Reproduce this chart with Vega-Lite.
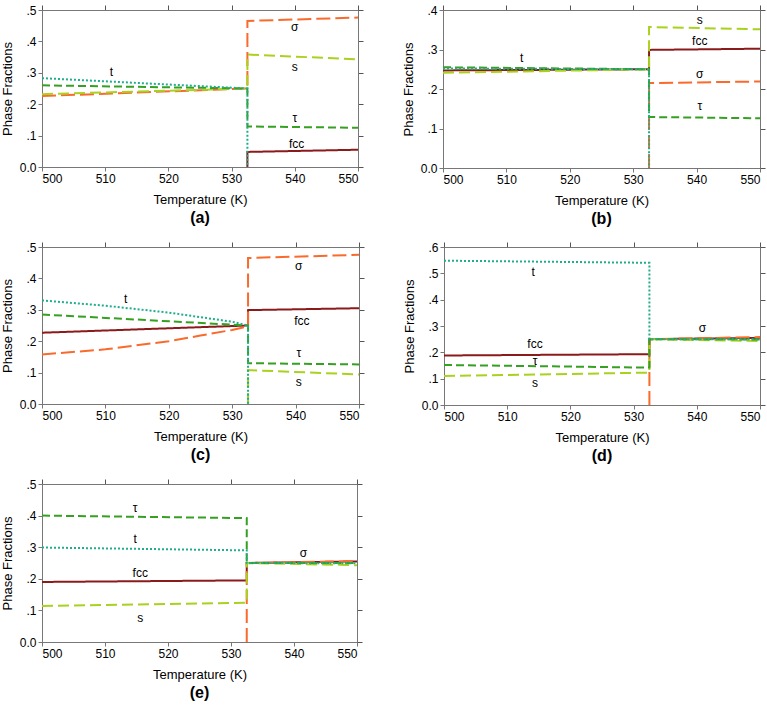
{
  "$schema": "https://vega.github.io/schema/vega-lite/v6.json",
  "padding": {"left": 0, "top": 3, "right": 2, "bottom": 2},
  "datasets": {
    "lines": [
      {"p": "a", "ph": "fcc", "o": 1, "T": 532.5, "f": 0},
      {"p": "a", "ph": "fcc", "o": 2, "T": 532.5, "f": 0.048},
      {"p": "a", "ph": "fcc", "o": 3, "T": 550, "f": 0.055},
      {"p": "a", "ph": "σ", "o": 1, "T": 500, "f": 0.226},
      {"p": "a", "ph": "σ", "o": 2, "T": 532.5, "f": 0.25},
      {"p": "a", "ph": "σ", "o": 3, "T": 532.5, "f": 0.465},
      {"p": "a", "ph": "σ", "o": 4, "T": 550, "f": 0.476},
      {"p": "a", "ph": "s", "o": 1, "T": 500, "f": 0.232},
      {"p": "a", "ph": "s", "o": 2, "T": 532.5, "f": 0.25},
      {"p": "a", "ph": "s", "o": 3, "T": 532.5, "f": 0.358},
      {"p": "a", "ph": "s", "o": 4, "T": 550, "f": 0.343},
      {"p": "a", "ph": "τ", "o": 1, "T": 500, "f": 0.26},
      {"p": "a", "ph": "τ", "o": 2, "T": 532.5, "f": 0.25},
      {"p": "a", "ph": "τ", "o": 3, "T": 532.5, "f": 0.129},
      {"p": "a", "ph": "τ", "o": 4, "T": 550, "f": 0.125},
      {"p": "a", "ph": "t", "o": 1, "T": 500, "f": 0.283},
      {"p": "a", "ph": "t", "o": 2, "T": 532.5, "f": 0.25},
      {"p": "a", "ph": "t", "o": 3, "T": 532.5, "f": 0},

      {"p": "b", "ph": "fcc", "o": 1, "T": 500, "f": 0.247},
      {"p": "b", "ph": "fcc", "o": 2, "T": 532.5, "f": 0.25},
      {"p": "b", "ph": "fcc", "o": 3, "T": 532.5, "f": 0.299},
      {"p": "b", "ph": "fcc", "o": 4, "T": 550, "f": 0.302},
      {"p": "b", "ph": "σ", "o": 1, "T": 532.5, "f": 0},
      {"p": "b", "ph": "σ", "o": 2, "T": 532.5, "f": 0.215},
      {"p": "b", "ph": "σ", "o": 3, "T": 550, "f": 0.219},
      {"p": "b", "ph": "s", "o": 1, "T": 500, "f": 0.241},
      {"p": "b", "ph": "s", "o": 2, "T": 532.5, "f": 0.25},
      {"p": "b", "ph": "s", "o": 3, "T": 532.5, "f": 0.357},
      {"p": "b", "ph": "s", "o": 4, "T": 550, "f": 0.351},
      {"p": "b", "ph": "τ", "o": 1, "T": 500, "f": 0.255},
      {"p": "b", "ph": "τ", "o": 2, "T": 532.5, "f": 0.25},
      {"p": "b", "ph": "τ", "o": 3, "T": 532.5, "f": 0.129},
      {"p": "b", "ph": "τ", "o": 4, "T": 550, "f": 0.126},
      {"p": "b", "ph": "t", "o": 1, "T": 500, "f": 0.252},
      {"p": "b", "ph": "t", "o": 2, "T": 532.5, "f": 0.25},
      {"p": "b", "ph": "t", "o": 3, "T": 532.5, "f": 0},

      {"p": "c", "ph": "fcc", "o": 1, "T": 500, "f": 0.227},
      {"p": "c", "ph": "fcc", "o": 2, "T": 532.5, "f": 0.25},
      {"p": "c", "ph": "fcc", "o": 3, "T": 532.5, "f": 0.299},
      {"p": "c", "ph": "fcc", "o": 4, "T": 550, "f": 0.305},
      {"p": "c", "ph": "σ", "o": 1, "T": 500, "f": 0.158},
      {"p": "c", "ph": "σ", "o": 2, "T": 510, "f": 0.174},
      {"p": "c", "ph": "σ", "o": 3, "T": 520, "f": 0.2},
      {"p": "c", "ph": "σ", "o": 4, "T": 525, "f": 0.218},
      {"p": "c", "ph": "σ", "o": 5, "T": 530, "f": 0.236},
      {"p": "c", "ph": "σ", "o": 6, "T": 532.5, "f": 0.247},
      {"p": "c", "ph": "σ", "o": 7, "T": 532.5, "f": 0.465},
      {"p": "c", "ph": "σ", "o": 8, "T": 550, "f": 0.475},
      {"p": "c", "ph": "s", "o": 1, "T": 532.5, "f": 0},
      {"p": "c", "ph": "s", "o": 2, "T": 532.5, "f": 0.108},
      {"p": "c", "ph": "s", "o": 3, "T": 550, "f": 0.094},
      {"p": "c", "ph": "τ", "o": 1, "T": 500, "f": 0.285},
      {"p": "c", "ph": "τ", "o": 2, "T": 532.5, "f": 0.25},
      {"p": "c", "ph": "τ", "o": 3, "T": 532.5, "f": 0.13},
      {"p": "c", "ph": "τ", "o": 4, "T": 550, "f": 0.126},
      {"p": "c", "ph": "t", "o": 1, "T": 500, "f": 0.33},
      {"p": "c", "ph": "t", "o": 2, "T": 510, "f": 0.313},
      {"p": "c", "ph": "t", "o": 3, "T": 520, "f": 0.291},
      {"p": "c", "ph": "t", "o": 4, "T": 530, "f": 0.262},
      {"p": "c", "ph": "t", "o": 5, "T": 532.5, "f": 0.25},
      {"p": "c", "ph": "t", "o": 6, "T": 532.5, "f": 0},

      {"p": "d", "ph": "fcc", "o": 1, "T": 500, "f": 0.188},
      {"p": "d", "ph": "fcc", "o": 2, "T": 532.5, "f": 0.193},
      {"p": "d", "ph": "fcc", "o": 3, "T": 532.5, "f": 0.25},
      {"p": "d", "ph": "fcc", "o": 4, "T": 550, "f": 0.255},
      {"p": "d", "ph": "σ", "o": 1, "T": 532.5, "f": 0},
      {"p": "d", "ph": "σ", "o": 2, "T": 532.5, "f": 0.25},
      {"p": "d", "ph": "σ", "o": 3, "T": 550, "f": 0.258},
      {"p": "d", "ph": "s", "o": 1, "T": 500, "f": 0.11},
      {"p": "d", "ph": "s", "o": 2, "T": 532.5, "f": 0.123},
      {"p": "d", "ph": "s", "o": 3, "T": 532.5, "f": 0.25},
      {"p": "d", "ph": "s", "o": 4, "T": 550, "f": 0.243},
      {"p": "d", "ph": "τ", "o": 1, "T": 500, "f": 0.152},
      {"p": "d", "ph": "τ", "o": 2, "T": 532.5, "f": 0.142},
      {"p": "d", "ph": "τ", "o": 3, "T": 532.5, "f": 0.25},
      {"p": "d", "ph": "τ", "o": 4, "T": 550, "f": 0.249},
      {"p": "d", "ph": "t", "o": 1, "T": 500, "f": 0.548},
      {"p": "d", "ph": "t", "o": 2, "T": 532.5, "f": 0.54},
      {"p": "d", "ph": "t", "o": 3, "T": 532.5, "f": 0.25},
      {"p": "d", "ph": "t", "o": 4, "T": 550, "f": 0.25},

      {"p": "e", "ph": "fcc", "o": 1, "T": 500, "f": 0.19},
      {"p": "e", "ph": "fcc", "o": 2, "T": 532.5, "f": 0.195},
      {"p": "e", "ph": "fcc", "o": 3, "T": 532.5, "f": 0.25},
      {"p": "e", "ph": "fcc", "o": 4, "T": 550, "f": 0.255},
      {"p": "e", "ph": "σ", "o": 1, "T": 532.5, "f": 0},
      {"p": "e", "ph": "σ", "o": 2, "T": 532.5, "f": 0.25},
      {"p": "e", "ph": "σ", "o": 3, "T": 550, "f": 0.256},
      {"p": "e", "ph": "s", "o": 1, "T": 500, "f": 0.114},
      {"p": "e", "ph": "s", "o": 2, "T": 532.5, "f": 0.124},
      {"p": "e", "ph": "s", "o": 3, "T": 532.5, "f": 0.25},
      {"p": "e", "ph": "s", "o": 4, "T": 550, "f": 0.243},
      {"p": "e", "ph": "τ", "o": 1, "T": 500, "f": 0.4},
      {"p": "e", "ph": "τ", "o": 2, "T": 532.5, "f": 0.392},
      {"p": "e", "ph": "τ", "o": 3, "T": 532.5, "f": 0.25},
      {"p": "e", "ph": "τ", "o": 4, "T": 550, "f": 0.25},
      {"p": "e", "ph": "t", "o": 1, "T": 500, "f": 0.299},
      {"p": "e", "ph": "t", "o": 2, "T": 532.5, "f": 0.29},
      {"p": "e", "ph": "t", "o": 3, "T": 532.5, "f": 0.25},
      {"p": "e", "ph": "t", "o": 4, "T": 550, "f": 0.249}
    ],
    "labels": [
      {"p": "a", "ph": "σ", "T": 540, "f": 0.447},
      {"p": "a", "ph": "s", "T": 540, "f": 0.317},
      {"p": "a", "ph": "τ", "T": 540, "f": 0.156},
      {"p": "a", "ph": "fcc", "T": 540.3, "f": 0.074},
      {"p": "a", "ph": "t", "T": 511, "f": 0.303},
      {"p": "b", "ph": "s", "T": 540.5, "f": 0.375},
      {"p": "b", "ph": "fcc", "T": 540.5, "f": 0.321},
      {"p": "b", "ph": "σ", "T": 540.5, "f": 0.239},
      {"p": "b", "ph": "τ", "T": 540.5, "f": 0.157},
      {"p": "b", "ph": "t", "T": 512.4, "f": 0.279},
      {"p": "c", "ph": "σ", "T": 540.5, "f": 0.441},
      {"p": "c", "ph": "fcc", "T": 541, "f": 0.264},
      {"p": "c", "ph": "τ", "T": 540.5, "f": 0.164},
      {"p": "c", "ph": "s", "T": 540.5, "f": 0.071},
      {"p": "c", "ph": "t", "T": 513.2, "f": 0.335},
      {"p": "d", "ph": "σ", "T": 540.9, "f": 0.293},
      {"p": "d", "ph": "fcc", "T": 514.4, "f": 0.23},
      {"p": "d", "ph": "τ", "T": 514.4, "f": 0.167},
      {"p": "d", "ph": "s", "T": 514.4, "f": 0.085},
      {"p": "d", "ph": "t", "T": 514.1, "f": 0.504},
      {"p": "e", "ph": "τ", "T": 514.8, "f": 0.423},
      {"p": "e", "ph": "t", "T": 514.8, "f": 0.325},
      {"p": "e", "ph": "fcc", "T": 515.6, "f": 0.219},
      {"p": "e", "ph": "s", "T": 515.6, "f": 0.076},
      {"p": "e", "ph": "σ", "T": 541.5, "f": 0.283}
    ]
  },
  "spacing": 12,
  "vconcat": [
    {
      "spacing": 37,
      "hconcat": [
        {
          "width": 316, "height": 157,
          "title": "(a)",
          "resolve": {"scale": {"x": "independent", "y": "independent"}},
          "layer": [
            {
              "data": {"name": "lines"},
              "transform": [{"filter": "datum.p == 'a'"}],
              "mark": {"type": "line", "strokeWidth": 2},
              "encoding": {
                "x": {"field": "T", "type": "quantitative", "scale": {"domain": [500, 550], "nice": false}, "axis": {"title": "Temperature (K)", "values": [500, 510, 520, 530, 540, 550]}},
                "y": {"field": "f", "type": "quantitative", "scale": {"domain": [0, 0.5], "nice": false}, "axis": {"title": "Phase Fractions", "values": [0, 0.1, 0.2, 0.3, 0.4, 0.5], "labelExpr": "datum.value == 0 ? '0.0' : replace(format(datum.value, '.1f'), '0.', '.')"}},
                "color": {"field": "ph", "type": "nominal", "legend": null, "scale": {"domain": ["fcc", "σ", "s", "τ", "t"], "range": ["#8b1a1a", "#f96a2c", "#a9d21f", "#35a022", "#1fae8c"]}},
                "strokeDash": {"field": "ph", "type": "nominal", "legend": null, "scale": {"domain": ["fcc", "σ", "s", "τ", "t"], "range": [[1, 0], [14, 5], [11, 5], [8, 4], [2, 2]]}},
                "order": {"field": "o", "type": "quantitative"}
              }
            },
            {
              "data": {"name": "labels"},
              "transform": [{"filter": "datum.p == 'a'"}],
              "mark": {"type": "text", "fontSize": 12, "font": "Liberation Sans", "color": "black"},
              "encoding": {
                "x": {"field": "T", "type": "quantitative", "scale": {"domain": [500, 550], "nice": false}, "axis": {"orient": "top", "labels": false, "title": null, "values": [500, 510, 520, 530, 540, 550], "tickColor": "#555555", "tickSize": 5}},
                "y": {"field": "f", "type": "quantitative", "scale": {"domain": [0, 0.5], "nice": false}, "axis": {"orient": "right", "labels": false, "title": null, "values": [0, 0.1, 0.2, 0.3, 0.4, 0.5], "tickColor": "#555555", "tickSize": 5}},
                "text": {"field": "ph"}
              }
            }
          ]
        },
        {
          "width": 317, "height": 158,
          "title": "(b)",
          "resolve": {"scale": {"x": "independent", "y": "independent"}},
          "layer": [
            {
              "data": {"name": "lines"},
              "transform": [{"filter": "datum.p == 'b'"}],
              "mark": {"type": "line", "strokeWidth": 2},
              "encoding": {
                "x": {"field": "T", "type": "quantitative", "scale": {"domain": [500, 550], "nice": false}, "axis": {"title": "Temperature (K)", "values": [500, 510, 520, 530, 540, 550]}},
                "y": {"field": "f", "type": "quantitative", "scale": {"domain": [0, 0.4], "nice": false}, "axis": {"title": "Phase Fractions", "values": [0, 0.1, 0.2, 0.3, 0.4], "labelExpr": "datum.value == 0 ? '0.0' : replace(format(datum.value, '.1f'), '0.', '.')"}},
                "color": {"field": "ph", "type": "nominal", "legend": null, "scale": {"domain": ["fcc", "σ", "s", "τ", "t"], "range": ["#8b1a1a", "#f96a2c", "#a9d21f", "#35a022", "#1fae8c"]}},
                "strokeDash": {"field": "ph", "type": "nominal", "legend": null, "scale": {"domain": ["fcc", "σ", "s", "τ", "t"], "range": [[1, 0], [14, 5], [11, 5], [8, 4], [2, 2]]}},
                "order": {"field": "o", "type": "quantitative"}
              }
            },
            {
              "data": {"name": "labels"},
              "transform": [{"filter": "datum.p == 'b'"}],
              "mark": {"type": "text", "fontSize": 12, "font": "Liberation Sans", "color": "black"},
              "encoding": {
                "x": {"field": "T", "type": "quantitative", "scale": {"domain": [500, 550], "nice": false}, "axis": {"orient": "top", "labels": false, "title": null, "values": [500, 510, 520, 530, 540, 550], "tickColor": "#555555", "tickSize": 5}},
                "y": {"field": "f", "type": "quantitative", "scale": {"domain": [0, 0.4], "nice": false}, "axis": {"orient": "right", "labels": false, "title": null, "values": [0, 0.1, 0.2, 0.3, 0.4], "tickColor": "#555555", "tickSize": 5}},
                "text": {"field": "ph"}
              }
            }
          ]
        }
      ]
    },
    {
      "spacing": 37,
      "hconcat": [
        {
          "width": 317, "height": 157,
          "title": "(c)",
          "resolve": {"scale": {"x": "independent", "y": "independent"}},
          "layer": [
            {
              "data": {"name": "lines"},
              "transform": [{"filter": "datum.p == 'c'"}],
              "mark": {"type": "line", "strokeWidth": 2},
              "encoding": {
                "x": {"field": "T", "type": "quantitative", "scale": {"domain": [500, 550], "nice": false}, "axis": {"title": "Temperature (K)", "values": [500, 510, 520, 530, 540, 550]}},
                "y": {"field": "f", "type": "quantitative", "scale": {"domain": [0, 0.5], "nice": false}, "axis": {"title": "Phase Fractions", "values": [0, 0.1, 0.2, 0.3, 0.4, 0.5], "labelExpr": "datum.value == 0 ? '0.0' : replace(format(datum.value, '.1f'), '0.', '.')"}},
                "color": {"field": "ph", "type": "nominal", "legend": null, "scale": {"domain": ["fcc", "σ", "s", "τ", "t"], "range": ["#8b1a1a", "#f96a2c", "#a9d21f", "#35a022", "#1fae8c"]}},
                "strokeDash": {"field": "ph", "type": "nominal", "legend": null, "scale": {"domain": ["fcc", "σ", "s", "τ", "t"], "range": [[1, 0], [14, 5], [11, 5], [8, 4], [2, 2]]}},
                "order": {"field": "o", "type": "quantitative"}
              }
            },
            {
              "data": {"name": "labels"},
              "transform": [{"filter": "datum.p == 'c'"}],
              "mark": {"type": "text", "fontSize": 12, "font": "Liberation Sans", "color": "black"},
              "encoding": {
                "x": {"field": "T", "type": "quantitative", "scale": {"domain": [500, 550], "nice": false}, "axis": {"orient": "top", "labels": false, "title": null, "values": [500, 510, 520, 530, 540, 550], "tickColor": "#555555", "tickSize": 5}},
                "y": {"field": "f", "type": "quantitative", "scale": {"domain": [0, 0.5], "nice": false}, "axis": {"orient": "right", "labels": false, "title": null, "values": [0, 0.1, 0.2, 0.3, 0.4, 0.5], "tickColor": "#555555", "tickSize": 5}},
                "text": {"field": "ph"}
              }
            }
          ]
        },
        {
          "width": 316, "height": 158,
          "title": "(d)",
          "resolve": {"scale": {"x": "independent", "y": "independent"}},
          "layer": [
            {
              "data": {"name": "lines"},
              "transform": [{"filter": "datum.p == 'd'"}],
              "mark": {"type": "line", "strokeWidth": 2},
              "encoding": {
                "x": {"field": "T", "type": "quantitative", "scale": {"domain": [500, 550], "nice": false}, "axis": {"title": "Temperature (K)", "values": [500, 510, 520, 530, 540, 550]}},
                "y": {"field": "f", "type": "quantitative", "scale": {"domain": [0, 0.6], "nice": false}, "axis": {"title": "Phase Fractions", "values": [0, 0.1, 0.2, 0.3, 0.4, 0.5, 0.6], "labelExpr": "datum.value == 0 ? '0.0' : replace(format(datum.value, '.1f'), '0.', '.')"}},
                "color": {"field": "ph", "type": "nominal", "legend": null, "scale": {"domain": ["fcc", "σ", "s", "τ", "t"], "range": ["#8b1a1a", "#f96a2c", "#a9d21f", "#35a022", "#1fae8c"]}},
                "strokeDash": {"field": "ph", "type": "nominal", "legend": null, "scale": {"domain": ["fcc", "σ", "s", "τ", "t"], "range": [[1, 0], [14, 5], [11, 5], [8, 4], [2, 2]]}},
                "order": {"field": "o", "type": "quantitative"}
              }
            },
            {
              "data": {"name": "labels"},
              "transform": [{"filter": "datum.p == 'd'"}],
              "mark": {"type": "text", "fontSize": 12, "font": "Liberation Sans", "color": "black"},
              "encoding": {
                "x": {"field": "T", "type": "quantitative", "scale": {"domain": [500, 550], "nice": false}, "axis": {"orient": "top", "labels": false, "title": null, "values": [500, 510, 520, 530, 540, 550], "tickColor": "#555555", "tickSize": 5}},
                "y": {"field": "f", "type": "quantitative", "scale": {"domain": [0, 0.6], "nice": false}, "axis": {"orient": "right", "labels": false, "title": null, "values": [0, 0.1, 0.2, 0.3, 0.4, 0.5, 0.6], "tickColor": "#555555", "tickSize": 5}},
                "text": {"field": "ph"}
              }
            }
          ]
        }
      ]
    },
    {
      "width": 315, "height": 158,
      "title": "(e)",
      "resolve": {"scale": {"x": "independent", "y": "independent"}},
      "layer": [
        {
          "data": {"name": "lines"},
          "transform": [{"filter": "datum.p == 'e'"}],
          "mark": {"type": "line", "strokeWidth": 2},
          "encoding": {
            "x": {"field": "T", "type": "quantitative", "scale": {"domain": [500, 550], "nice": false}, "axis": {"title": "Temperature (K)", "values": [500, 510, 520, 530, 540, 550]}},
            "y": {"field": "f", "type": "quantitative", "scale": {"domain": [0, 0.5], "nice": false}, "axis": {"title": "Phase Fractions", "values": [0, 0.1, 0.2, 0.3, 0.4, 0.5], "labelExpr": "datum.value == 0 ? '0.0' : replace(format(datum.value, '.1f'), '0.', '.')"}},
            "color": {"field": "ph", "type": "nominal", "legend": null, "scale": {"domain": ["fcc", "σ", "s", "τ", "t"], "range": ["#8b1a1a", "#f96a2c", "#a9d21f", "#35a022", "#1fae8c"]}},
            "strokeDash": {"field": "ph", "type": "nominal", "legend": null, "scale": {"domain": ["fcc", "σ", "s", "τ", "t"], "range": [[1, 0], [14, 5], [11, 5], [8, 4], [2, 2]]}},
            "order": {"field": "o", "type": "quantitative"}
          }
        },
        {
          "data": {"name": "labels"},
          "transform": [{"filter": "datum.p == 'e'"}],
          "mark": {"type": "text", "fontSize": 12, "font": "Liberation Sans", "color": "black"},
          "encoding": {
            "x": {"field": "T", "type": "quantitative", "scale": {"domain": [500, 550], "nice": false}, "axis": {"orient": "top", "labels": false, "title": null, "values": [500, 510, 520, 530, 540, 550], "tickColor": "#555555", "tickSize": 5}},
            "y": {"field": "f", "type": "quantitative", "scale": {"domain": [0, 0.5], "nice": false}, "axis": {"orient": "right", "labels": false, "title": null, "values": [0, 0.1, 0.2, 0.3, 0.4, 0.5], "tickColor": "#555555", "tickSize": 5}},
            "text": {"field": "ph"}
          }
        }
      ]
    }
  ],
  "config": {
    "view": {"stroke": "#777777", "strokeWidth": 1},
    "font": "Liberation Sans",
    "axis": {
      "grid": false,
      "domainColor": "#777777",
      "tickColor": "#777777",
      "tickSize": 4,
      "labelFont": "Liberation Sans",
      "labelFontSize": 12,
      "labelColor": "black",
      "titleFont": "Liberation Sans",
      "titleFontSize": 13,
      "titleFontWeight": "normal",
      "titleColor": "black",
      "labelPadding": 2
    },
    "axisX": {"titlePadding": 9},
    "axisY": {"titlePadding": 5},
    "title": {
      "orient": "bottom",
      "anchor": "middle",
      "font": "Liberation Sans",
      "fontSize": 16,
      "fontWeight": "bold",
      "offset": 4
    }
  }
}
